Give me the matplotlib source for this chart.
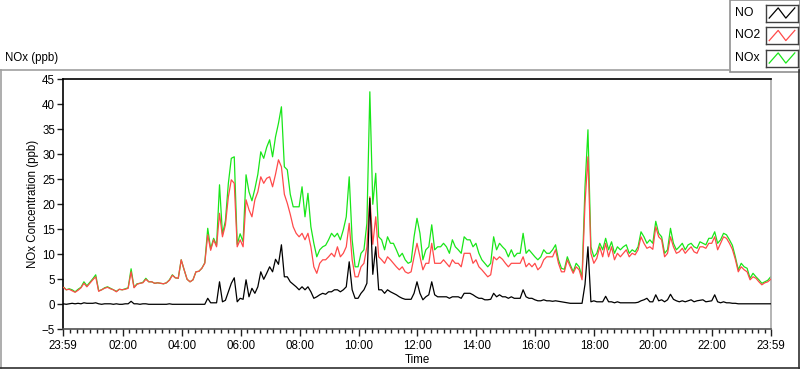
import numpy as np
import matplotlib
matplotlib.use('Agg')
import matplotlib.pyplot as plt
from matplotlib.lines import Line2D
from matplotlib.patches import Rectangle

plt.rcParams['font.family'] = ['Liberation Sans', 'DejaVu Sans']

# ---------- data (6-minute samples, minutes after 23:59) ----------
STEP_MIN = 6
no2 = [
    3.4, 2.9, 3.0, 2.7, 2.4, 2.8, 3.3, 4.2, 3.5, 4.2,        # 00
    4.9, 5.5, 2.6, 2.9, 3.2, 3.4, 3.1, 2.9, 2.5, 3.0,        # 01
    2.9, 3.0, 3.2, 6.5, 3.3, 4.0, 4.2, 4.3, 5.0, 4.5,        # 02
    4.5, 4.2, 4.3, 4.2, 4.1, 4.3, 4.8, 5.8, 5.3, 5.2,        # 03
    8.9, 6.9, 5.0, 4.5, 4.9, 6.5, 6.6, 7.2, 8.2, 13.9,       # 04
    10.8, 12.9, 11.5, 18.2, 13.5, 15.9, 21.5, 24.9, 24.2, 11.5,  # 05
    12.9, 11.5, 20.9, 18.9, 17.5, 20.9, 22.5, 25.5, 24.2, 25.2,  # 06
    25.5, 23.5, 26.0, 28.9, 27.5, 22.0, 20.2, 18.0, 15.5, 14.2,  # 07
    13.5, 14.2, 12.9, 14.2, 11.5, 7.5, 6.2, 8.2, 8.9, 8.9,   # 08
    9.5, 10.2, 9.5, 11.5, 9.5, 10.2, 11.5, 16.2, 8.9, 5.5,   # 09
    5.5, 7.5, 8.2, 11.5, 21.5, 12.0, 17.5, 9.5, 8.9, 8.2,    # 10
    9.5, 8.9, 8.2, 7.5, 6.9, 7.5, 6.5, 6.2, 6.5, 9.5,        # 11
    12.2, 9.5, 6.9, 8.2, 8.2, 12.2, 8.2, 8.2, 8.2, 8.9,      # 12
    8.2, 7.5, 8.9, 8.2, 8.2, 7.5, 10.2, 10.2, 10.2, 8.2,     # 13
    8.9, 7.5, 6.9, 6.2, 5.5, 5.9, 9.5, 8.9, 9.5, 9.0,        # 14
    8.2, 7.5, 8.2, 8.2, 8.2, 8.2, 9.5, 7.5, 8.2, 7.5,        # 15
    8.2, 6.9, 7.5, 8.9, 9.5, 9.5, 9.5, 10.9, 8.2, 6.5,       # 16
    6.5, 8.9, 7.5, 6.2, 7.5, 6.9, 4.9, 20.2, 29.5, 10.2,     # 17
    8.2, 9.2, 11.5, 9.5, 12.2, 9.5, 11.5, 8.9, 10.2, 9.5,    # 18
    10.2, 10.9, 9.5, 10.2, 9.9, 10.9, 13.5, 12.2, 11.2, 11.5,  # 19
    11.0, 15.5, 13.5, 12.9, 9.5, 10.2, 13.5, 11.5, 10.2, 10.5,  # 20
    11.2, 10.2, 10.9, 11.5, 10.5, 10.2, 11.5, 11.5, 11.2, 12.2,  # 21
    12.2, 13.5, 10.9, 12.2, 13.5, 13.2, 12.2, 11.0, 9.0, 6.5,  # 22
    7.5, 6.9, 6.5, 4.9, 5.5, 5.2, 4.5, 3.9, 4.3, 4.5, 5.0,   # 23
]
no = [
    0.1, 0.0, 0.1, 0.2, 0.1, 0.2, 0.1, 0.3, 0.2, 0.2,
    0.2, 0.3, 0.1, 0.0, 0.1, 0.1, 0.1, 0.0, 0.1, 0.0,
    0.0, 0.1, 0.1, 0.6, 0.1, 0.1, 0.0, 0.1, 0.1, 0.0,
    0.0, 0.0, 0.0, 0.0, 0.0, 0.0, 0.1, 0.0, 0.0, 0.0,
    0.0, 0.0, 0.0, 0.0, 0.0, 0.0, 0.0, 0.0, 0.0, 1.2,
    0.3, 0.3, 0.3, 4.5, 0.5, 0.8, 2.5, 4.2, 5.3, 0.5,
    1.2, 1.0, 4.9, 1.5, 3.2, 2.2, 3.5, 6.5, 5.0, 6.2,
    7.5, 6.5, 9.0, 8.0, 11.9, 5.5, 5.5, 4.5, 4.0, 3.5,
    2.9, 3.5, 2.9, 3.5, 2.5, 1.2, 1.5, 1.9, 2.2, 2.0,
    2.5, 2.5, 2.9, 2.9, 2.5, 2.9, 3.5, 8.5, 2.9, 1.2,
    1.2, 2.2, 2.9, 4.2, 21.2, 6.0, 11.5, 2.9, 2.9, 2.2,
    2.9, 2.5, 2.2, 1.9, 1.5, 1.2, 1.0, 1.0, 1.0, 2.2,
    4.5, 2.2, 0.9, 1.5, 1.9, 4.5, 1.9, 1.5, 1.5, 1.5,
    1.5, 1.2, 1.5, 1.5, 1.5, 1.2, 2.2, 2.2, 2.2, 1.9,
    1.5, 1.2, 1.2, 0.9, 0.9, 1.0, 2.2, 1.5, 1.9, 1.5,
    1.5, 1.2, 1.5, 1.2, 1.2, 1.2, 2.9, 1.5, 1.2, 1.2,
    0.9, 0.7, 0.7, 0.9, 0.7, 0.7, 0.6, 0.7, 0.6, 0.5,
    0.4, 0.3, 0.2, 0.2, 0.2, 0.2, 0.2, 4.0, 11.5, 0.5,
    0.7, 0.5, 0.5, 0.5, 1.6, 0.5, 0.5, 0.3, 0.5, 0.3,
    0.3, 0.3, 0.3, 0.3, 0.3, 0.4, 0.7, 0.9, 1.2, 0.5,
    0.5, 1.9, 0.7, 0.9, 0.5, 0.9, 2.0, 1.0, 0.7, 0.5,
    0.7, 0.5, 0.7, 0.9, 0.5, 0.7, 0.8, 0.9, 0.5, 0.6,
    0.7, 1.9, 0.5, 0.3, 0.5, 0.3, 0.3, 0.2, 0.2, 0.1,
    0.1, 0.1, 0.1, 0.1, 0.1, 0.1, 0.1, 0.1, 0.1, 0.1, 0.1,
]
nox = [
    3.5, 2.9, 3.1, 2.9, 2.5, 3.0, 3.4, 4.5, 3.7, 4.4,
    5.1, 5.9, 2.7, 2.9, 3.3, 3.5, 3.2, 2.9, 2.6, 3.0,
    2.9, 3.1, 3.3, 7.1, 3.4, 4.1, 4.2, 4.4, 5.2, 4.5,
    4.5, 4.2, 4.3, 4.2, 4.1, 4.3, 4.9, 5.9, 5.3, 5.2,
    8.9, 6.9, 5.0, 4.5, 4.9, 6.5, 6.6, 7.2, 8.3, 15.2,
    11.1, 13.2, 11.8, 23.9, 14.0, 16.7, 24.2, 29.2, 29.5, 12.0,
    14.1, 12.5, 25.9, 22.5, 20.7, 23.1, 26.0, 30.5, 29.2, 31.4,
    32.9, 29.5, 33.5, 36.2, 39.5, 27.5, 26.9, 22.0, 19.5, 19.5,
    19.5, 23.5, 17.5, 22.2, 15.5, 12.2, 9.5, 10.9, 11.5, 11.8,
    12.9, 14.2, 13.5, 14.2, 12.9, 14.9, 17.5, 25.5, 12.9, 7.5,
    7.5, 10.2, 10.9, 16.2, 42.5, 20.0, 26.2, 13.5, 12.9, 10.9,
    13.5, 12.2, 12.2, 10.9, 9.5, 10.2, 8.9, 8.2, 8.5, 13.5,
    17.2, 14.2, 8.9, 10.9, 11.5, 15.9, 10.9, 11.5, 11.5, 12.2,
    11.5, 10.2, 12.9, 11.5, 10.9, 10.2, 13.5, 12.9, 12.9, 11.5,
    12.2, 10.2, 8.9, 8.2, 7.5, 8.2, 13.5, 10.9, 12.2, 11.5,
    10.9, 9.5, 10.9, 9.5, 10.2, 10.2, 14.2, 10.2, 10.9, 10.2,
    9.5, 8.9, 9.5, 10.9, 10.2, 10.2, 10.9, 11.9, 8.9, 7.2,
    7.0, 9.5, 7.9, 6.5, 8.2, 7.5, 5.5, 23.5, 34.9, 11.5,
    9.5, 10.2, 12.2, 10.9, 13.2, 10.9, 12.5, 10.2, 11.5, 10.9,
    11.5, 11.9, 10.2, 10.9, 10.5, 11.5, 14.5, 13.5, 12.2, 12.9,
    12.2, 16.6, 14.2, 13.5, 10.2, 10.9, 15.2, 12.2, 10.9, 11.5,
    12.2, 10.9, 11.9, 12.2, 11.5, 11.2, 12.5, 12.2, 11.9, 13.2,
    13.2, 14.5, 12.2, 12.9, 14.2, 13.9, 12.9, 11.8, 9.5, 6.9,
    8.2, 7.5, 7.2, 5.2, 6.2, 5.5, 4.9, 4.2, 4.5, 4.8, 5.5,
]
minutes = np.arange(len(no2)) * STEP_MIN

tick_minutes = [0, 121, 241, 361, 481, 601, 721, 841, 961, 1081, 1201, 1321, 1440]
tick_labels = ['23:59', '02:00', '04:00', '06:00', '08:00', '10:00', '12:00',
               '14:00', '16:00', '18:00', '20:00', '22:00', '23:59']

series_names = ['NO', 'NO2', 'NOx']
C_NO, C_NO2, C_NOX = '#000000', '#ff4a4a', '#19e619'
FS = 8.3

# ---------- figure ----------
W, H = 800, 369
fig = plt.figure(figsize=(W / 100, H / 100), dpi=100)
fig.patch.set_facecolor('white')


def fx(px):
    return px / W


def fy(py):
    return 1 - py / H


# outer panel frame
fig.add_artist(Line2D([fx(0), fx(730)], [fy(69.5), fy(69.5)], color='#a0a0a0', lw=1.2))
fig.add_artist(Line2D([fx(0.6), fx(0.6)], [fy(69.5), fy(367.5)], color='#a0a0a0', lw=1.2))
fig.add_artist(Line2D([fx(0), fx(799.5)], [fy(367.6), fy(367.6)], color='#303030', lw=1.2))
fig.add_artist(Line2D([fx(798.6), fx(798.6)], [fy(70), fy(367.6)], color='#303030', lw=1.2))

fig.text(fx(5), fy(58), 'NOx (ppb)', fontsize=FS, va='center', ha='left')

# plot area
x0, x1, ytop, ybot = 63.3, 770.7, 79.3, 329.3
ax = fig.add_axes([fx(x0), fy(ybot), fx(x1) - fx(x0), fy(ytop) - fy(ybot)])
ax.plot(minutes, nox, color=C_NOX, lw=0.9, zorder=2)
ax.plot(minutes, no2, color=C_NO2, lw=0.9, zorder=3)
ax.plot(minutes, no, color=C_NO, lw=0.9, zorder=4)

ax.set_xlim(0, 1440)
ax.set_ylim(-5, 45)
ax.set_yticks(np.arange(-5, 46, 5))
ax.set_xticks(tick_minutes)
ax.set_xticklabels(tick_labels)
minor = [121 + k * 120 / 9 for k in range(-9, 100)]
minor = [m for m in minor if 2 < m < 1438 and all(abs(m - t) > 1 for t in tick_minutes)]
ax.set_xticks(minor, minor=True)
ax.tick_params(axis='both', which='major', direction='out', length=4, width=1,
               labelsize=FS, pad=2, colors='#202020')
ax.tick_params(axis='x', which='minor', direction='out', length=3, width=1, colors='#202020')
ax.tick_params(axis='x', which='major', length=5, pad=3)
for lab in ax.get_xticklabels() + ax.get_yticklabels():
    lab.set_color('black')

ax.spines['left'].set_color('black')
ax.spines['top'].set_color('black')
ax.spines['bottom'].set_color('#505050')
ax.spines['right'].set_color('#a8a8a8')
for s in ax.spines.values():
    s.set_linewidth(1.2)

ax.set_ylabel('NOx Concentration (ppb)', fontsize=FS, labelpad=2)
ax.set_xlabel('Time', fontsize=FS, labelpad=1)

# legend box
fig.add_artist(Rectangle((fx(730), fy(71.5)), fx(799.5) - fx(730), fy(0.5) - fy(71.5),
                         facecolor='white', edgecolor='#909090', lw=1.2, zorder=-1))
for i, (name, col) in enumerate(zip(series_names, [C_NO, C_NO2, C_NOX])):
    top = 4.5 + i * 22.5
    fig.text(fx(735), fy(top + 8.5), name, fontsize=8.8, va='center', ha='left')
    sw = fig.add_axes([fx(766), fy(top + 17), fx(798) - fx(766), fy(top) - fy(top + 17)])
    sw.set_zorder(5)
    sw.plot([0.1, 0.38, 0.62, 0.9], [0.2, 0.8, 0.2, 0.8], color=col, lw=0.9)
    sw.set_xlim(0, 1)
    sw.set_ylim(0, 1)
    sw.set_xticks([])
    sw.set_yticks([])
    for s in sw.spines.values():
        s.set_color('#404040')
        s.set_linewidth(1.0)

fig.savefig('out.png', dpi=100)
